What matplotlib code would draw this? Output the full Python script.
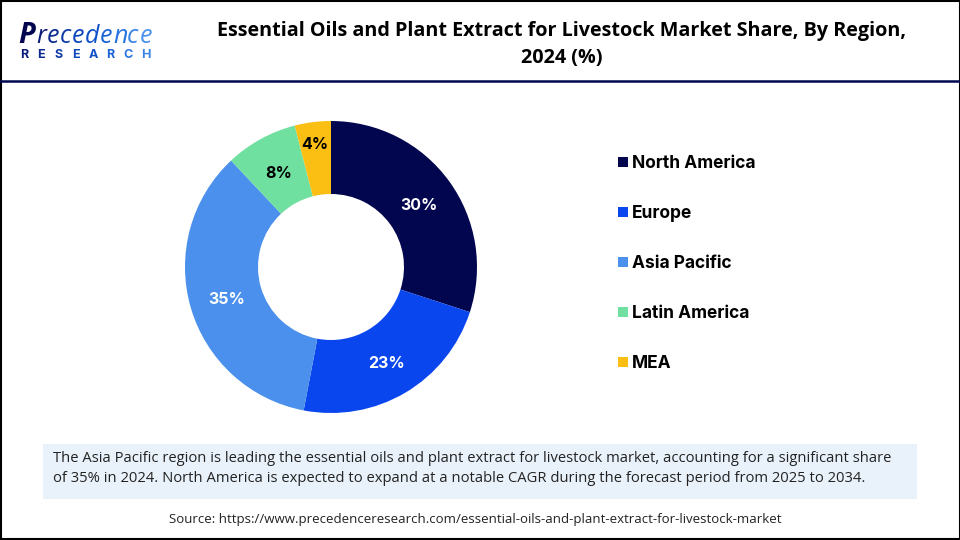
import matplotlib
matplotlib.use("Agg")
import matplotlib.pyplot as plt
from matplotlib.patches import Rectangle

regions = ["North America", "Europe", "Asia Pacific", "Latin America", "MEA"]
shares = [30, 23, 35, 8, 4]
colors = ["#02064f", "#0a46ee", "#4a90ec", "#6fe09f", "#fbbf14"]
pct_colors = ["white", "white", "white", "black", "black"]

title = "Essential Oils and Plant Extract for Livestock Market Share, By Region,\n2024 (%)"
note_lines = [
    "The Asia Pacific region is leading the essential oils and plant extract for livestock market, accounting for a significant share",
    "of 35% in 2024. North America is expected to expand at a notable CAGR during the forecast period from 2025 to 2034.",
]
source = "Source: https://www.precedenceresearch.com/essential-oils-and-plant-extract-for-livestock-market"

logo_letters = "Precedence"
logo_x = [18, 36, 47, 60, 72, 85, 100, 113, 127, 140]
logo_colors = ["#02064f", "#0a1a78", "#0c2a90", "#0d3aa8", "#0e46bb", "#1050c8", "#1a62d8", "#2a74e0", "#3a84e6", "#4a90ec"]
logo_sub = "RESEARCH"

fig = plt.figure(figsize=(9.6, 5.4), dpi=100, facecolor="white")

# pixel coordinate overlay for frame, header, note box
bg = fig.add_axes([0, 0, 1, 1])
bg.set_xlim(0, 960)
bg.set_ylim(540, 0)
bg.axis("off")

bg.add_patch(Rectangle((0.5, 0.5), 959, 538.5, fill=False, ec="black", lw=1.5))
bg.plot([0, 960], [81, 81], color="#02064f", lw=1.8)

bg.text(561.5, 44.5, title, ha="center", va="center", fontsize=14.23, fontweight="bold",
        family="Open Sans", color="black", linespacing=1.5)

# logo
for i, (ch, c) in enumerate(zip(logo_letters, logo_colors)):
    bg.text(logo_x[i], 43, ch, ha="left", va="baseline", fontsize=21 if i == 0 else 18,
            style="italic", fontweight="bold" if i == 0 else "normal",
            family="Open Sans", color=c)
for i, ch in enumerate(logo_sub):
    bg.text(20 + i * 17.3, 58, ch, ha="left", va="baseline", fontsize=9, fontweight="bold",
            family="Inter", color=logo_colors[min(i + 1, 9)])

# note box
bg.add_patch(Rectangle((43, 444), 874, 55, fc="#e9f1fa", ec="none"))
for line, y in zip(note_lines, [458, 479]):
    bg.text(53, y, line, ha="left", va="center", fontsize=10.62, family="Open Sans", color="#222222")
bg.text(475, 519, source, ha="center", va="center", fontsize=9.52, family="Open Sans", color="#222222")

# donut
ax = fig.add_axes([(331 - 150) / 960, (540 - 267 - 150) / 540, 300 / 960, 300 / 540])
wedges, _, autotexts = ax.pie(
    shares, colors=colors, startangle=90, counterclock=False, radius=146 / 150,
    autopct="%d%%", pctdistance=109 / 146, wedgeprops={"width": 73 / 150, "linewidth": 0},
    textprops={"fontsize": 11.5, "fontweight": "bold", "family": "Inter"},
)
ax.set_xlim(-1, 1)
ax.set_ylim(-1, 1)
for t, c in zip(autotexts, pct_colors):
    t.set_color(c)
    px, py = t.get_position()
    t.set_position((px, py - 0.015))
# the small MEA label sits further out in the ring
px, py = autotexts[4].get_position()
autotexts[4].set_position((px * 1.16, py * 1.16))

# legend
handles = [Rectangle((0, 0), 1, 1, fc=c, ec="none") for c in colors]
leg = fig.legend(
    handles, regions, loc="upper left", bbox_to_anchor=(613 / 960, 1 - 150 / 540),
    frameon=False, handlelength=0.58, handleheight=0.58, handletextpad=0.23,
    labelspacing=1.90, borderpad=0.3, borderaxespad=0,
    prop={"family": "Inter", "weight": "bold", "size": 12.5},
)

fig.savefig("out.png", dpi=100, facecolor="white")
